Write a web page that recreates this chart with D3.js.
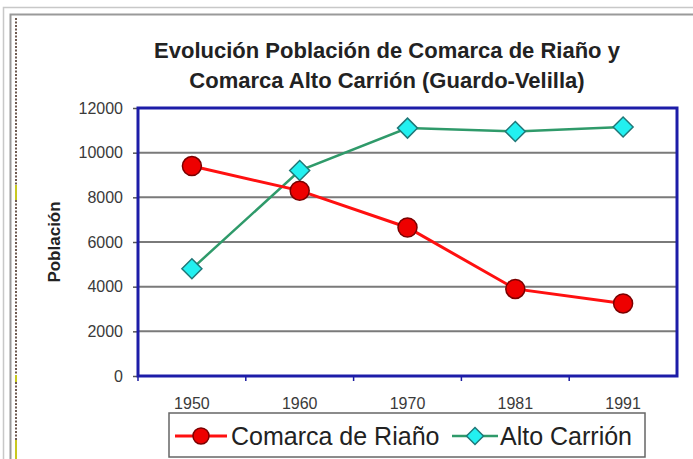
<!DOCTYPE html>
<html><head><meta charset="utf-8">
<script src="https://cdn.jsdelivr.net/npm/d3@7"></script>
<style>html,body{margin:0;padding:0;background:#fff;}svg{display:block;}</style>
</head><body>
<script>
const years = ["1950","1960","1970","1981","1991"];
const riano = [9400, 8300, 6650, 3900, 3250];
const carrion = [4800, 9200, 11100, 10950, 11150];
const yTicks = [0, 2000, 4000, 6000, 8000, 10000, 12000];
const titleLines = ["Evolución Población de Comarca de Riaño y", "Comarca Alto Carrión (Guardo-Velilla)"];
const seriesNames = ["Comarca de Riaño", "Alto Carrión"];

const W = 693, H = 459;
const svg = d3.select("body").append("svg").attr("width", W).attr("height", H);
svg.append("rect").attr("width", W).attr("height", H).attr("fill", "#fff");

// outer frames
svg.append("path").attr("d", "M3.5,459 V7.5 H693").attr("fill","none").attr("stroke","#c8c8c8").attr("stroke-width",1.5);
svg.append("path").attr("d", "M10.5,459 V14.5 H693").attr("fill","none").attr("stroke","#9a9a9a").attr("stroke-width",2);
svg.append("line").attr("x1",16).attr("x2",16).attr("y1",18).attr("y2",459)
  .attr("stroke","#6e5a50").attr("stroke-width",2).attr("stroke-dasharray","2,1.5");
[[185,200],[375,382],[440,459]].forEach(([a,b])=>{
  svg.append("line").attr("x1",16).attr("x2",16).attr("y1",a).attr("y2",b)
    .attr("stroke","#c8c820").attr("stroke-width",2);
});

const L = 138, R = 677, T = 108, B = 376;
const x = d3.scaleBand().domain(years).range([L, R]);
const y = d3.scaleLinear().domain([0, 12000]).range([B, T]);

// gridlines
svg.append("g").selectAll("line").data(yTicks.filter(d => d > 0 && d < 12000)).join("line")
  .attr("x1", L).attr("x2", R).attr("y1", d => y(d)).attr("y2", d => y(d))
  .attr("stroke", "#7a7a7a").attr("stroke-width", 2);

// y axis
const yAxis = svg.append("g").attr("transform", `translate(${L},0)`)
  .call(d3.axisLeft(y).tickValues(yTicks).tickSize(5).tickPadding(10).tickFormat(d3.format("d")));
yAxis.select(".domain").remove();
yAxis.selectAll(".tick line").attr("stroke", "#555").attr("stroke-width", 1.5);
yAxis.selectAll("text").attr("font-family", "Liberation Sans, Arial, sans-serif").attr("font-size", 16).attr("fill", "#3a3a3a");

// x axis
const xAxis = svg.append("g").attr("transform", `translate(0,${B})`)
  .call(d3.axisBottom(x).tickSize(0).tickPadding(22));
xAxis.select(".domain").remove();
xAxis.selectAll("text").attr("font-family", "Liberation Sans, Arial, sans-serif").attr("font-size", 16).attr("fill", "#3a3a3a");
// x tick marks at band boundaries
svg.append("g").selectAll("line").data(years).join("line")
  .attr("x1", d => x(d)).attr("x2", d => x(d)).attr("y1", B).attr("y2", B + 5)
  .attr("stroke", "#1a1aa0").attr("stroke-width", 1.5);

// plot frame
svg.append("rect").attr("x", L).attr("y", T).attr("width", R - L).attr("height", B - T)
  .attr("fill", "none").attr("stroke", "#1c1ca8").attr("stroke-width", 3);

const cx = d => x(d) + x.bandwidth() / 2;
const line = d3.line().x((d, i) => cx(years[i])).y(d => y(d));

// Alto Carrión
svg.append("path").datum(carrion).attr("d", line).attr("fill", "none")
  .attr("stroke", "#2f9a6a").attr("stroke-width", 2.5);
// Riaño
svg.append("path").datum(riano).attr("d", line).attr("fill", "none")
  .attr("stroke", "#ff1010").attr("stroke-width", 3);

const diamond = (s) => `M0,${-s} L${s},0 L0,${s} L${-s},0 Z`;
svg.append("g").selectAll("path").data(carrion).join("path")
  .attr("transform", (d, i) => `translate(${cx(years[i])},${y(d)})`)
  .attr("d", diamond(10)).attr("fill", "#22f0f0").attr("stroke", "#207878").attr("stroke-width", 1.5);
svg.append("g").selectAll("circle").data(riano).join("circle")
  .attr("cx", (d, i) => cx(years[i])).attr("cy", d => y(d)).attr("r", 9.5)
  .attr("fill", "#ee0000").attr("stroke", "#7a0000").attr("stroke-width", 1.5);

// title
svg.append("g").selectAll("text").data(titleLines).join("text")
  .attr("x", 387).attr("y", (d, i) => 58 + i * 29.5)
  .attr("text-anchor", "middle").attr("font-family", "Liberation Sans, Arial, sans-serif")
  .attr("font-weight", "bold").attr("font-size", 22).attr("fill", "#222").text(d => d);

// y title
svg.append("text").attr("transform", "translate(60,242) rotate(-90)")
  .attr("text-anchor", "middle").attr("font-family", "Liberation Sans, Arial, sans-serif")
  .attr("font-weight", "bold").attr("font-size", 17).attr("fill", "#222").text("Población");

// legend
svg.append("rect").attr("x", 169).attr("y", 413).attr("width", 476).attr("height", 44)
  .attr("fill", "#fff").attr("stroke", "#666").attr("stroke-width", 1.5);
const ly = 436;
svg.append("line").attr("x1", 175).attr("x2", 227).attr("y1", ly).attr("y2", ly).attr("stroke", "#ff1010").attr("stroke-width", 3);
svg.append("circle").attr("cx", 201).attr("cy", ly).attr("r", 8).attr("fill", "#ee0000").attr("stroke", "#7a0000").attr("stroke-width", 1.5);
svg.append("text").attr("x", 231).attr("y", ly + 9).attr("font-family", "Liberation Sans, Arial, sans-serif")
  .attr("font-size", 25).attr("fill", "#222").text(seriesNames[0]);
svg.append("line").attr("x1", 452).attr("x2", 498).attr("y1", ly).attr("y2", ly).attr("stroke", "#2f9a6a").attr("stroke-width", 2.5);
svg.append("path").attr("transform", `translate(475,${ly})`).attr("d", diamond(8.5))
  .attr("fill", "#22f0f0").attr("stroke", "#207878").attr("stroke-width", 1.5);
svg.append("text").attr("x", 500).attr("y", ly + 9).attr("font-family", "Liberation Sans, Arial, sans-serif")
  .attr("font-size", 25).attr("fill", "#222").text(seriesNames[1]);
</script>
</body></html>
